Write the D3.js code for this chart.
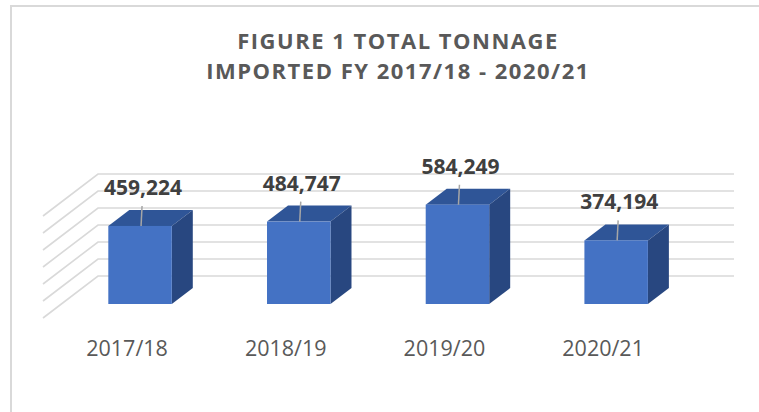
<html>
<head>
<script src="https://d3js.org/d3.v7.min.js"></script>
<style>
  body { margin: 0; background: #fff; }
  text { font-family: "Open Sans", sans-serif; }
</style>
</head>
<body>
<svg id="chart" width="759" height="412"></svg>
<script>
// data
var years = ["2017/18", "2018/19", "2019/20", "2020/21"];
var tonnage = [459224, 484747, 584249, 374194];
var gridValues = [0, 100000, 200000, 300000, 400000, 500000, 600000];
var titleLines = ["FIGURE 1 TOTAL TONNAGE", "IMPORTED FY 2017/18 - 2020/21"];

var svg = d3.select("#chart");

// chart area frame (only top and left edges show)
svg.append("rect")
    .attr("x", 11).attr("y", 6)
    .attr("width", 800).attr("height", 450)
    .attr("fill", "none")
    .attr("stroke", "#d9d9d9")
    .attr("stroke-width", 2);

// front plane of the bars
var y = d3.scaleLinear().domain([0, 600000]).range([304, 202]);
// back wall sits a bit higher
var wallShift = 28;
var x = d3.scaleBand().domain(years).range([60.7, 695.5])
    .paddingInner(0.6).paddingOuter(0.3);

var depthX = 21, depthY = -16;
var wallLeft = 98, wallRight = 734, floorDX = -55, floorDY = 42;

// gridlines: back wall + side wall diagonals
var grid = svg.append("g").attr("stroke", "#d9d9d9").attr("stroke-width", 1.6).attr("fill", "none");
grid.selectAll("path")
    .data(gridValues)
    .enter()
    .append("path")
    .attr("d", function(d) {
        var yb = y(d) - wallShift;
        return "M" + wallRight + "," + yb + "L" + wallLeft + "," + yb +
               "L" + (wallLeft + floorDX) + "," + (yb + floorDY);
    });

// bars
var bars = svg.append("g");
var bar = bars.selectAll("g")
    .data(tonnage)
    .enter()
    .append("g");

function poly(pts) {
    return "M" + pts.map(function(p) { return p.join(","); }).join("L") + "Z";
}

bar.append("path")
    .attr("fill", "#2f5597")
    .attr("d", function(d, i) {
        var x0 = x(years[i]), x1 = x0 + x.bandwidth(), yt = y(d);
        return poly([[x0, yt], [x0 + depthX, yt + depthY], [x1 + depthX, yt + depthY], [x1, yt]]);
    });
bar.append("path")
    .attr("fill", "#284780")
    .attr("d", function(d, i) {
        var x1 = x(years[i]) + x.bandwidth(), yt = y(d), yb = y(0);
        return poly([[x1, yt], [x1 + depthX, yt + depthY], [x1 + depthX, yb + depthY], [x1, yb]]);
    });
bar.append("rect")
    .attr("fill", "#4472c4")
    .attr("x", function(d, i) { return x(years[i]); })
    .attr("y", function(d) { return y(d); })
    .attr("width", x.bandwidth())
    .attr("height", function(d) { return y(0) - y(d); });

// leader lines + value labels
bar.append("line")
    .attr("stroke", "#a6a6a6")
    .attr("stroke-width", 1.5)
    .attr("x1", function(d, i) { return x(years[i]) + x.bandwidth() / 2 + 1; })
    .attr("x2", function(d, i) { return x(years[i]) + x.bandwidth() / 2 + 2; })
    .attr("y1", function(d) { return y(d); })
    .attr("y2", function(d) { return y(d) - 20; });

bar.append("text")
    .attr("x", function(d, i) { return x(years[i]) + x.bandwidth() / 2 + 3; })
    .attr("y", function(d) { return y(d) - 31; })
    .attr("text-anchor", "middle")
    .attr("font-size", 21)
    .attr("font-weight", "bold")
    .attr("fill", "#404040")
    .text(function(d) { return d3.format(",")(d); });

// category labels
svg.append("g").selectAll("text")
    .data(years)
    .enter()
    .append("text")
    .attr("x", function(d) { return x(d) + x.bandwidth() / 2 - 13; })
    .attr("y", 356)
    .attr("text-anchor", "middle")
    .attr("font-size", 21.5)
    .attr("fill", "#595959")
    .text(function(d) { return d; });

// title
svg.append("g").selectAll("text")
    .data(titleLines)
    .enter()
    .append("text")
    .attr("x", 398)
    .attr("y", function(d, i) { return 49 + i * 30; })
    .attr("text-anchor", "middle")
    .attr("font-size", 22)
    .attr("font-weight", "bold")
    .attr("letter-spacing", 1.5)
    .attr("fill", "#595959")
    .text(function(d) { return d; });
</script>
</body>
</html>
